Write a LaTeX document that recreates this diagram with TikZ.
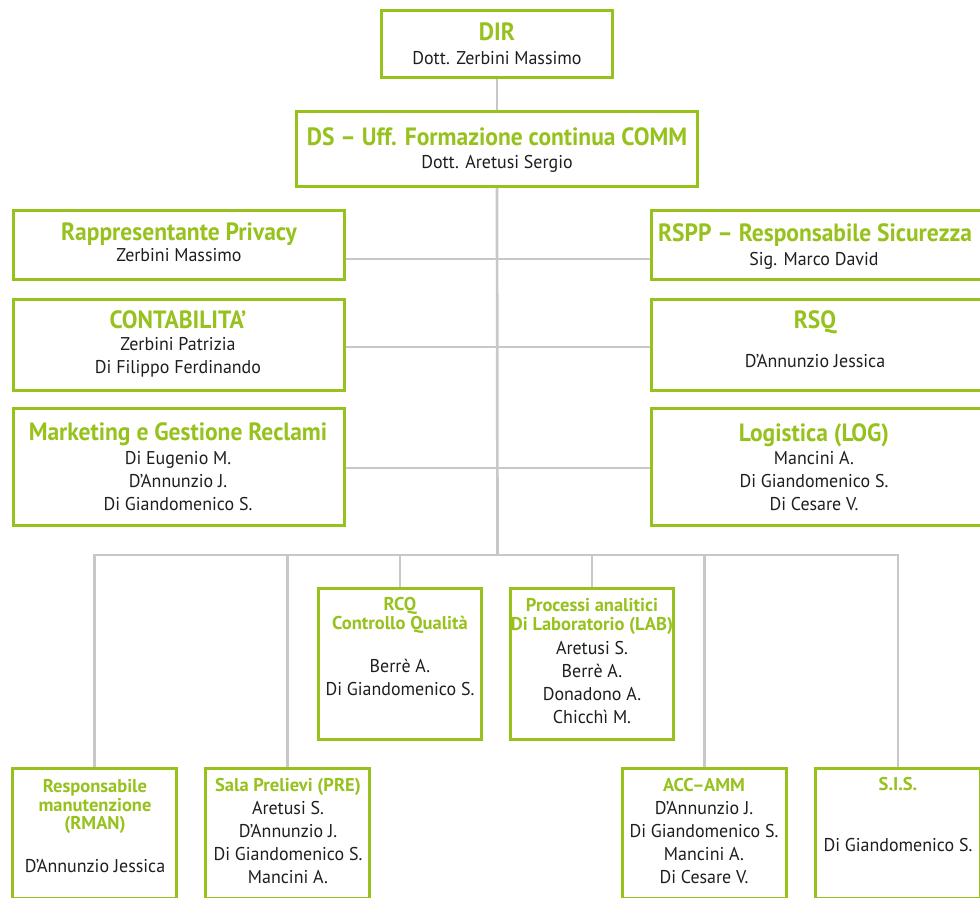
\documentclass[tikz,border=0pt]{standalone}
\usepackage{fontspec}
\setmainfont{PT Sans}[FakeStretch=0.97]
\newfontfamily\titlefont{PT Sans}[FakeStretch=0.94]
\newfontfamily\smtitlefont{PT Sans}[FakeStretch=1.0]
\usetikzlibrary{backgrounds}
\definecolor{grn}{HTML}{97C21E}
\definecolor{lin}{HTML}{C8C8C8}
\definecolor{txt}{HTML}{1E1E1E}
\tikzset{
  box/.style={draw=grn, line width=3pt, fill=white, inner sep=0pt, rectangle},
  conn/.style={draw=lin, line width=2.7pt},
  bigt/.style={font=\titlefont\bfseries\fontsize{25}{30}\selectfont, text=grn, inner sep=0pt, text height=17.5pt, text depth=0pt},
  smt/.style={font=\smtitlefont\bfseries\fontsize{18.5}{22}\selectfont, text=grn, inner sep=0pt, text height=13pt, text depth=0pt},
  nm/.style={font=\fontsize{18.5}{22}\selectfont, text=txt, inner sep=0pt, text height=13pt, text depth=0pt},
}
\newcommand\BT[4]{\node[bigt] (#1) at (#2,#3) {#4};}
\newcommand\ST[4]{\node[smt] (#1) at (#2,#3) {#4};}
\newcommand\NM[4]{\node[nm] (#1) at (#2,#3) {#4};}
\begin{document}
\begin{tikzpicture}[x=1pt,y=-1pt]
\useasboundingbox (0,0) rectangle (980,897);
% ---- boxes ----
\node[box, minimum width=231pt, minimum height=67pt] (DIR) at (497,44) {};
\node[box, minimum width=401pt, minimum height=75pt] (DS) at (497,149) {};
\node[box, minimum width=331pt, minimum height=69pt] (RAP) at (179,245) {};
\node[box, minimum width=343.5pt, minimum height=69pt] (RSPP) at (823.25,245) {};
\node[box, minimum width=331pt, minimum height=91pt] (CON) at (179,345) {};
\node[box, minimum width=343.5pt, minimum height=91pt] (RSQ) at (823.25,345) {};
\node[box, minimum width=331pt, minimum height=117pt] (MKT) at (179,467) {};
\node[box, minimum width=343.5pt, minimum height=117pt] (LOG) at (823.25,467) {};
\node[box, minimum width=163pt, minimum height=151pt] (RCQ) at (400,664) {};
\node[box, minimum width=163pt, minimum height=151pt] (LAB) at (592,664) {};
\node[box, minimum width=164pt, minimum height=129.5pt] (RMAN) at (94.5,833.25) {};
\node[box, minimum width=164pt, minimum height=129.5pt] (PRE) at (287.5,833.25) {};
\node[box, minimum width=164pt, minimum height=129.5pt] (ACC) at (704.5,833.25) {};
\node[box, minimum width=165pt, minimum height=129.5pt] (SIS) at (898,833.25) {};
% ---- connectors ----
\coordinate (bus) at (497.5,555);
\coordinate (h1) at (497.5,259);
\coordinate (h2) at (497.5,347);
\coordinate (h3) at (497.5,468);
\begin{scope}[on background layer]
  \draw[conn] (DIR.south) -- (DS.north);
  \draw[conn] (DS.south) -- (bus);
  \draw[conn] (RAP.east |- h1) -- (RSPP.west |- h1);
  \draw[conn] (CON.east |- h2) -- (RSQ.west |- h2);
  \draw[conn] (MKT.east |- h3) -- (LOG.west |- h3);
  \draw[conn] (RMAN.north) |- (SIS.north |- bus) -- (SIS.north);
  \foreach \n in {PRE,RCQ,LAB,ACC} \draw[conn] (\n.north) -- (\n.north |- bus);
\end{scope}
% ---- texts ----
\BT{DIRt}{497}{32}{DIR}
\NM{DIR1}{497}{58}{Dott. Zerbini Massimo}
\BT{DSt}{497}{137}{DS – Uff. Formazione continua COMM}
\NM{DS1}{497}{162}{Dott. Aretusi Sergio}
\BT{RAPt}{179}{232}{Rappresentante Privacy}
\NM{RAP1}{179}{255}{Zerbini Massimo}
\BT{RSPPt}{815}{233}{RSPP – Responsabile Sicurezza}
\NM{RSPP1}{814}{259}{Sig. Marco David}
\BT{CONt}{178}{320}{CONTABILITA’}
\NM{CON1}{178}{344}{Zerbini Patrizia}
\NM{CON2}{178}{367}{Di Filippo Ferdinando}
\BT{RSQt}{815}{320}{RSQ}
\NM{RSQ1}{815}{361}{D’Annunzio Jessica}
\BT{MKTt}{178}{432}{Marketing e Gestione Reclami}
\NM{MKT1}{178}{458}{Di Eugenio M.}
\NM{MKT2}{178}{481}{D’Annunzio J.}
\NM{MKT3}{178}{504}{Di Giandomenico S.}
\BT{LOGt}{814}{433}{Logistica (LOG)}
\NM{LOG1}{814}{458}{Mancini A.}
\NM{LOG2}{814}{481}{Di Giandomenico S.}
\NM{LOG3}{814}{504}{Di Cesare V.}
\ST{RCQt}{400}{604}{RCQ}
\ST{RCQu}{400}{623}{Controllo Qualità}
\NM{RCQ1}{400}{666}{Berrè A.}
\NM{RCQ2}{400}{689}{Di Giandomenico S.}
\ST{LABt}{592}{605}{Processi analitici}
\ST{LABu}{592}{624}{Di Laboratorio (LAB)}
\NM{LAB1}{592}{648}{Aretusi S.}
\NM{LAB2}{592}{671}{Berrè A.}
\NM{LAB3}{592}{694}{Donadono A.}
\NM{LAB4}{592}{717}{Chicchì M.}
\ST{RMANt}{95}{786}{Responsabile}
\ST{RMANu}{95}{805}{manutenzione}
\ST{RMANv}{95}{823}{(RMAN)}
\NM{RMAN1}{95}{866}{D’Annunzio Jessica}
\ST{PREt}{288}{785}{Sala Prelievi (PRE)}
\NM{PRE1}{288}{808}{Aretusi S.}
\NM{PRE2}{288}{831}{D’Annunzio J.}
\NM{PRE3}{288}{854}{Di Giandomenico S.}
\NM{PRE4}{288}{877}{Mancini A.}
\ST{ACCt}{704}{785}{ACC–AMM}
\NM{ACC1}{704}{808}{D’Annunzio J.}
\NM{ACC2}{704}{831}{Di Giandomenico S.}
\NM{ACC3}{704}{854}{Mancini A.}
\NM{ACC4}{704}{877}{Di Cesare V.}
\ST{SISt}{898}{784}{S.I.S.}
\NM{SIS1}{898}{845}{Di Giandomenico S.}
\end{tikzpicture}
\end{document}
